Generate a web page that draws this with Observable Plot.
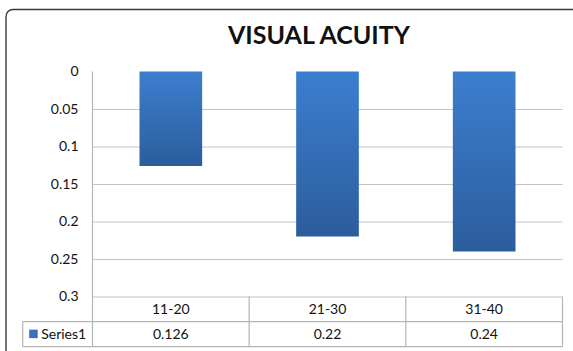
<!DOCTYPE html>
<html>
<head>
<meta charset="utf-8">
<script src="https://cdn.jsdelivr.net/npm/d3@7"></script>
<script src="https://cdn.jsdelivr.net/npm/@observablehq/plot@0.6"></script>
<style>
  html, body { margin: 0; padding: 0; background: #fff; }
  svg { display: block; }
</style>
</head>
<body>
<div id="chart"></div>
<script>
// Visual acuity by age group
const title = "VISUAL ACUITY";
const seriesName = "Series1";
const categories = ["11-20", "21-30", "31-40"];
const values = [0.126, 0.22, 0.24];
const yTicks = [0, 0.05, 0.1, 0.15, 0.2, 0.25, 0.3];
const valueLabels = ["0.126", "0.22", "0.24"];

const data = categories.map((c, i) => ({group: c, value: values[i]}));

const W = 573, H = 351;
const font = "Lato, 'Open Sans', sans-serif";

// Vertical gradient and soft shadow used for the bars
const gradientDefs = () => {
  const defs = d3.create("svg:defs");
  const g = defs.append("linearGradient")
    .attr("id", "barFill").attr("x1", 0).attr("y1", 0).attr("x2", 0).attr("y2", 1);
  g.append("stop").attr("offset", "0%").attr("stop-color", "#3c7ecf");
  g.append("stop").attr("offset", "100%").attr("stop-color", "#2c5d9d");
  const f = defs.append("filter").attr("id", "barShadow")
    .attr("x", "-10%").attr("y", "-10%").attr("width", "130%").attr("height", "130%");
  f.append("feDropShadow").attr("dx", 1).attr("dy", 1.5).attr("stdDeviation", 1.2)
    .attr("flood-color", "#000").attr("flood-opacity", 0.3);
  return defs.node();
};

const plot = Plot.plot({
  width: W,
  height: H,
  marginLeft: 92.5,
  marginRight: 10.5,
  marginTop: 71.5,
  marginBottom: 54.5,
  style: {fontFamily: font, fontSize: "14px", color: "#000", background: "#fff", overflow: "visible"},
  x: {domain: categories, paddingInner: 0.6, paddingOuter: 0.3, round: false, axis: null},
  y: {domain: [0, 0.3], reverse: true, axis: null},
  marks: [
    gradientDefs,
    Plot.ruleY(yTicks.filter(t => t > 0), {stroke: "#c3c3c3", strokeWidth: 1.2}),
    Plot.barY(data, {x: "group", y1: 0, y2: "value", fill: "url(#barFill)"}),
    Plot.axisY(yTicks, {
      tickSize: 0, tickPadding: 14.5, label: null,
      tickFormat: d => String(d), fontSize: 14, fill: "#111"
    })
  ]
});

const svg = d3.select(plot);
svg.selectAll("rect").filter(function() { return this.getAttribute("fill") === "url(#barFill)"; })
  .attr("filter", "url(#barShadow)");

const x = plot.scale("x");
const y = plot.scale("y");
const step = x.step ?? (x.bandwidth / (1 - 0.6));
const center = c => x.apply(c) + x.bandwidth / 2;
const left = x.range[0], right = x.range[1];
const rowH = 25.1;
const tableTop = y.apply(0.3);
const row1 = tableTop + rowH, row2 = tableTop + 2 * rowH;
const legendLeft = 22.7;

const over = svg.append("g").attr("text-anchor", "start");

// outer chart frame
over.append("rect")
  .attr("x", 6).attr("y", 9.5).attr("width", 640).attr("height", 420).attr("rx", 7)
  .attr("fill", "none").attr("stroke", "#3a3a3a").attr("stroke-width", 1.4);

// title
over.append("text")
  .attr("x", 319).attr("y", 43.5).attr("text-anchor", "middle")
  .attr("font-family", font).attr("font-weight", 700).attr("font-size", 25)
  .attr("fill", "#111").text(title);

// axis line continuing down through the data table
const lineColor = "#b4b4b4";
over.append("line")
  .attr("x1", left).attr("x2", left).attr("y1", y.apply(0)).attr("y2", row2)
  .attr("stroke", lineColor).attr("stroke-width", 1.2);

// data table grid
[row1, row2].forEach(yy => over.append("line")
  .attr("x1", legendLeft).attr("x2", right).attr("y1", yy).attr("y2", yy)
  .attr("stroke", lineColor).attr("stroke-width", 1.2));
over.append("line")
  .attr("x1", legendLeft).attr("x2", legendLeft).attr("y1", row1).attr("y2", row2)
  .attr("stroke", lineColor).attr("stroke-width", 1.2);
categories.forEach(c => {
  const xr = center(c) + step / 2;
  over.append("line")
    .attr("x1", xr).attr("x2", xr).attr("y1", tableTop).attr("y2", row2)
    .attr("stroke", lineColor).attr("stroke-width", 1.2);
});

// table text: categories and values
categories.forEach((c, i) => {
  over.append("text").attr("x", center(c)).attr("y", tableTop + rowH / 2)
    .attr("dy", "0.36em").attr("text-anchor", "middle")
    .attr("font-family", font).attr("font-size", 14).attr("fill", "#111").text(c);
  over.append("text").attr("x", center(c)).attr("y", row1 + rowH / 2)
    .attr("dy", "0.36em").attr("text-anchor", "middle")
    .attr("font-family", font).attr("font-size", 14).attr("fill", "#111").text(valueLabels[i]);
});

// legend key in the table
over.append("rect")
  .attr("x", legendLeft + 6.5).attr("y", row1 + rowH / 2 - 4.5).attr("width", 8.5).attr("height", 8.5)
  .attr("fill", "#3870bd");
over.append("text").attr("x", legendLeft + 18.5).attr("y", row1 + rowH / 2)
  .attr("dy", "0.36em").attr("text-anchor", "start")
  .attr("font-family", font).attr("font-size", 14).attr("fill", "#111")
  .text(seriesName);

document.getElementById("chart").appendChild(plot);
</script>
</body>
</html>
